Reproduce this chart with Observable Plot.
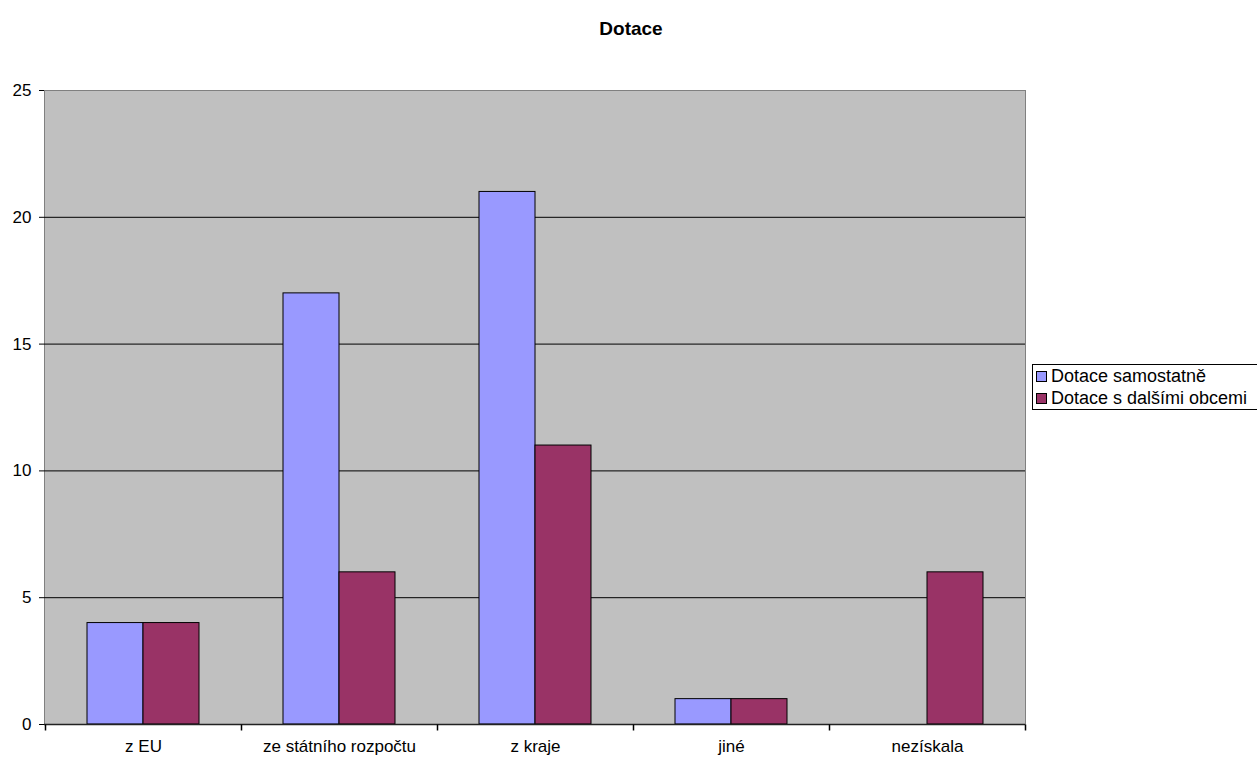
<!DOCTYPE html>
<html>
<head>
<meta charset="utf-8">
<script src="https://cdn.jsdelivr.net/npm/d3@7"></script>
<script src="https://cdn.jsdelivr.net/npm/@observablehq/plot@0.6"></script>
<style>
  html, body { margin: 0; padding: 0; background: #fff; overflow: hidden; }
  #wrap { position: relative; width: 1257px; height: 758px; font-family: "Liberation Sans", Arial, sans-serif; }
  #title { position: absolute; left: 0; width: 1262px; top: 18px; text-align: center; font-weight: bold; font-size: 19px; line-height: 22px; }
  #legend { position: absolute; left: 1032px; top: 364px; width: 260px; border: 1px solid #000; background: #fff; padding: 0 0 0 3px; font-size: 18px; }
  .item { display: flex; align-items: center; height: 22px; white-space: nowrap; }
  .sw { width: 9px; height: 9px; border: 1px solid #000; margin-right: 4px; }
  #chart { position: absolute; left: 0; top: 0; }
</style>
</head>
<body>
<div id="wrap">
  <div id="chart"></div>
  <div id="title"></div>
  <div id="legend"></div>
</div>
<script>
const titleText = "Dotace";
const categories = ["z EU", "ze státního rozpočtu", "z kraje", "jiné", "nezískala"];
const samostatne = [4, 17, 21, 1, 0];
const dalsimi = [4, 6, 11, 1, 6];
const seriesNames = ["Dotace samostatně", "Dotace s dalšími obcemi"];
const seriesColors = ["#9999FF", "#993366"];
const yTicks = [0, 5, 10, 15, 20, 25];
const gridValues = [5, 10, 15, 20];

const rows1 = categories.map((c, i) => ({cat: c, v: samostatne[i]})).filter(d => d.v > 0);
const rows2 = categories.map((c, i) => ({cat: c, v: dalsimi[i]})).filter(d => d.v > 0);

const tickSymbol = { draw(ctx) { ctx.moveTo(0, 0); ctx.lineTo(0, 6); } };

const chart = Plot.plot({
  width: 1257,
  height: 758,
  marginTop: 90,
  marginBottom: 34,
  marginLeft: 44,
  marginRight: 232,
  style: { fontFamily: "'Liberation Sans', Arial, sans-serif", fontSize: "17px", color: "#000", background: "transparent" },
  x: { domain: categories, padding: 0, tickSize: 0, tickPadding: 15, label: null },
  y: { domain: [0, 25], ticks: yTicks, tickSize: 5, tickPadding: 8, line: true, label: null },
  marks: [
    Plot.frame({ fill: "#C0C0C0", stroke: "#808080" }),
    Plot.ruleY(gridValues, { stroke: "#000", strokeWidth: 1 }),
    Plot.rectY(rows1, { x: "cat", y: "v", fill: seriesColors[0], stroke: "#000", strokeWidth: 1, insetLeft: 42, insetRight: 98 }),
    Plot.rectY(rows2, { x: "cat", y: "v", fill: seriesColors[1], stroke: "#000", strokeWidth: 1, insetLeft: 98, insetRight: 42 }),
    Plot.ruleY([0], { stroke: "#222", strokeWidth: 1.5 }),
    Plot.dot(categories, { x: d => d, y: () => 0, dx: -98, symbol: tickSymbol, stroke: "#000", fill: "none" }),
    Plot.dot(categories.slice(-1), { x: d => d, y: () => 0, dx: 98, symbol: tickSymbol, stroke: "#000", fill: "none" })
  ]
});
document.getElementById("chart").appendChild(chart);
document.getElementById("title").textContent = titleText;
const leg = document.getElementById("legend");
seriesNames.forEach((n, i) => {
  const it = document.createElement("div");
  it.className = "item";
  const sw = document.createElement("div");
  sw.className = "sw";
  sw.style.background = seriesColors[i];
  const t = document.createElement("span");
  t.textContent = n;
  it.appendChild(sw); it.appendChild(t);
  leg.appendChild(it);
});
</script>
</body>
</html>
